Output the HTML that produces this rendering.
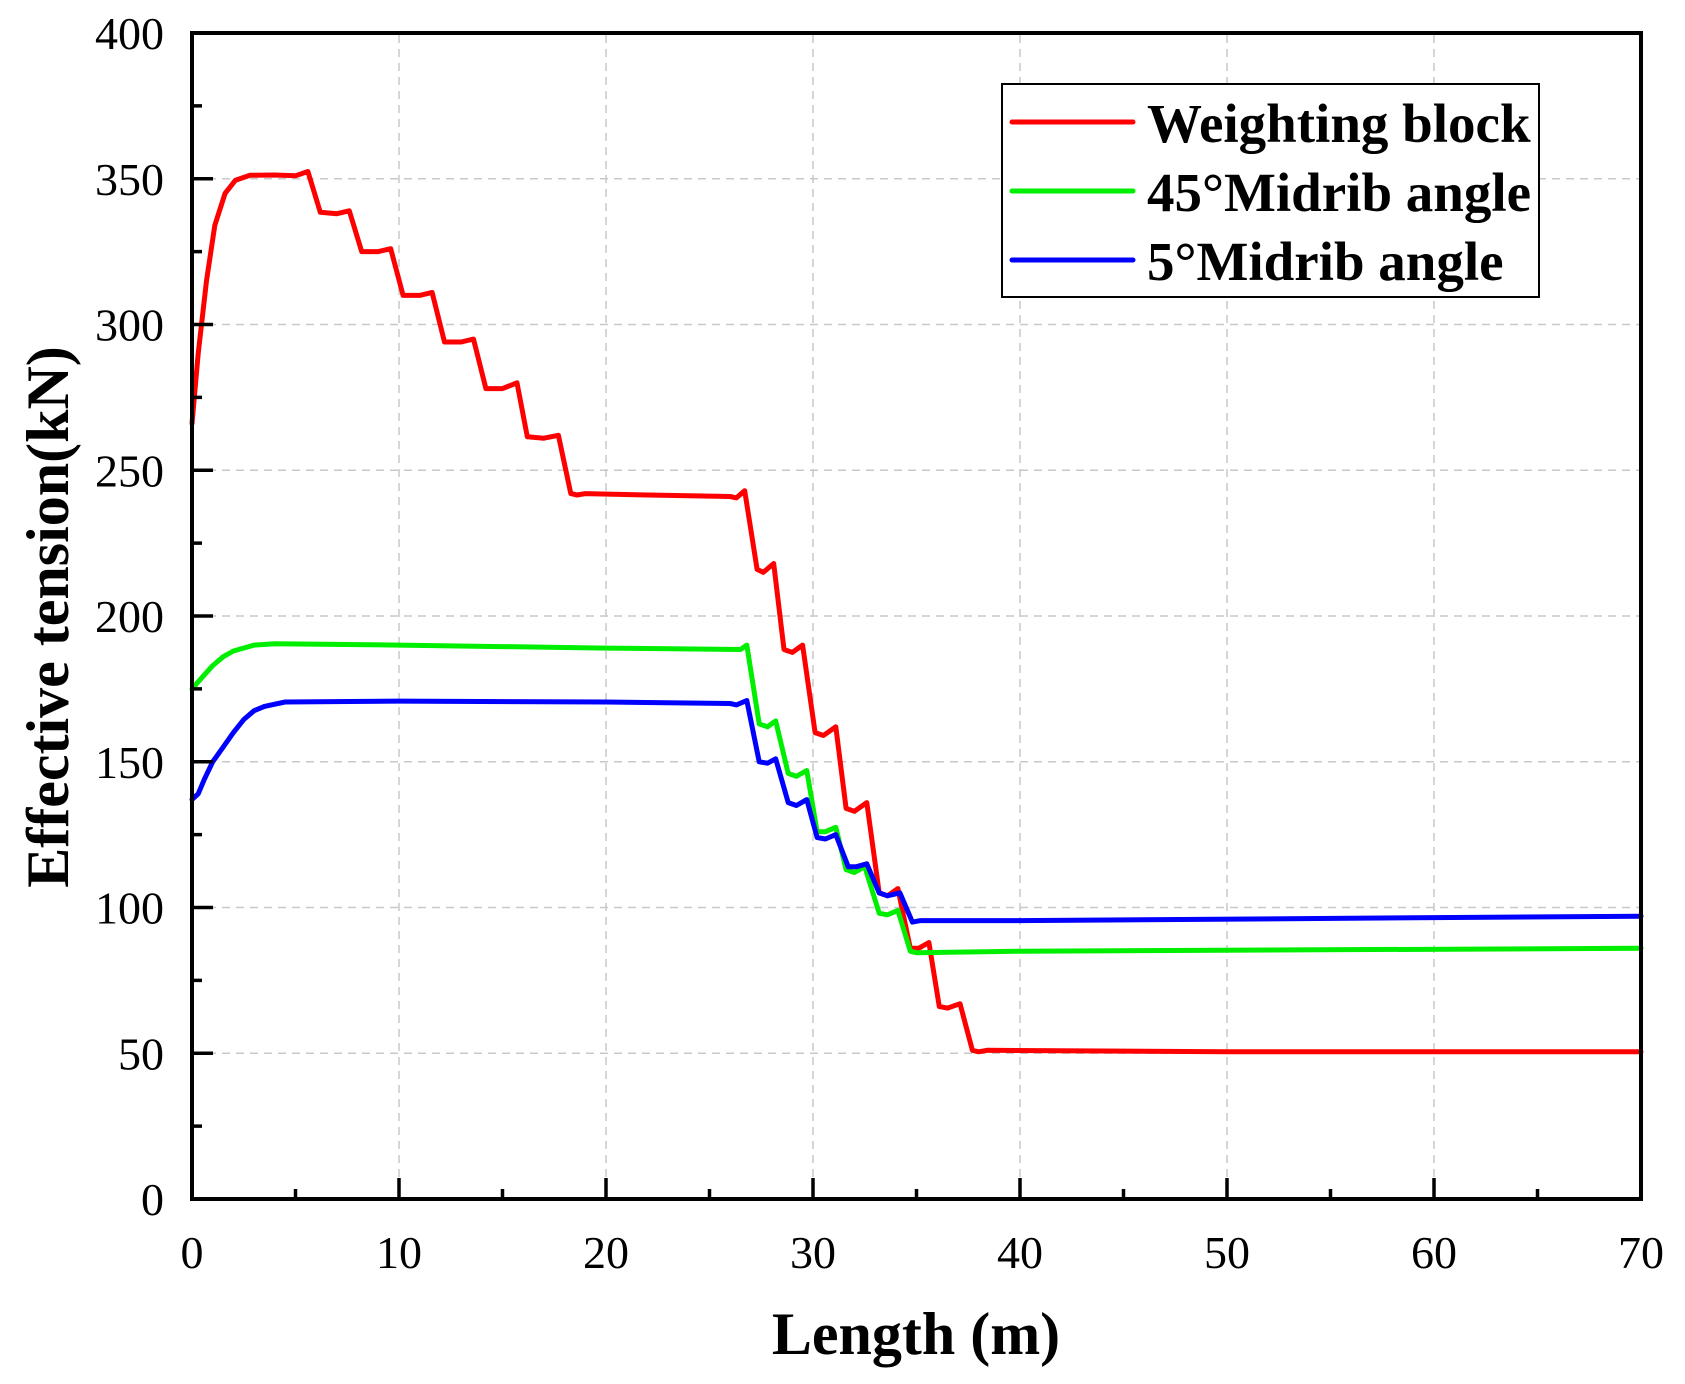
<!DOCTYPE html>
<html><head><meta charset="utf-8"><style>
html,body{margin:0;padding:0;background:#fff;}
svg{display:block;}
</style></head><body>
<svg id="s" width="1685" height="1384" xmlns="http://www.w3.org/2000/svg" font-family="Liberation Serif, serif">
<rect width="1685" height="1384" fill="#fff"/>
<g id="grid" stroke="#c8c8c8" stroke-width="1.5" stroke-dasharray="8,6"></g>
<g id="series" fill="none" stroke-width="5" stroke-linejoin="round" stroke-linecap="round"></g>
<rect x="192" y="33" width="1449" height="1166" fill="none" stroke="#000" stroke-width="4"/>
<g id="ticks" stroke="#000" stroke-width="3.5"></g>
<g id="labels" font-size="46" fill="#000"></g>
<text x="916" y="1354" font-size="60" font-weight="bold" text-anchor="middle">Length (m)</text>
<text transform="translate(68,617) rotate(-90)" font-size="60" font-weight="bold" text-anchor="middle">Effective tension(kN)</text>
<rect x="1002" y="84" width="537" height="213" fill="#fff" stroke="#000" stroke-width="2"/>
<line x1="1012" y1="122" x2="1133" y2="122" stroke="#ff0000" stroke-width="5" stroke-linecap="round"/>
<line x1="1012" y1="191" x2="1133" y2="191" stroke="#00ee00" stroke-width="5" stroke-linecap="round"/>
<line x1="1012" y1="260" x2="1133" y2="260" stroke="#0000ff" stroke-width="5" stroke-linecap="round"/>
<g font-size="55" font-weight="bold" fill="#000">
<text x="1147" y="142">Weighting block</text>
<text x="1147" y="211">45°Midrib angle</text>
<text x="1147" y="280">5°Midrib angle</text>
</g>
</svg>
<script>
var NS="http://www.w3.org/2000/svg";
function X(v){return 192+v*1449/70;}
function Y(v){return 1199-v*1166/400;}
function el(p,t,a,txt){var e=document.createElementNS(NS,t);for(var k in a)e.setAttribute(k,a[k]);if(txt!==undefined)e.textContent=txt;document.getElementById(p).appendChild(e);}
for(var i=1;i<7;i++)el("grid","line",{x1:X(i*10),x2:X(i*10),y1:35,y2:1197});
for(var j=1;j<8;j++)el("grid","line",{x1:194,x2:1639,y1:Y(j*50),y2:Y(j*50)});
for(var i=0;i<=14;i++){var L=i%2?10:21;el("ticks","line",{x1:X(i*5),x2:X(i*5),y1:1199,y2:1199-L});}
for(var j=0;j<=16;j++){var L=j%2?10:21;el("ticks","line",{x1:192,x2:192+L,y1:Y(j*25),y2:Y(j*25)});}
for(var i=0;i<=7;i++)el("labels","text",{x:X(i*10),y:1268,"text-anchor":"middle"},String(i*10));
for(var j=0;j<=8;j++)el("labels","text",{x:164,y:Y(j*50)+16,"text-anchor":"end"},String(j*50));
var red=[[0,266],[0.3,290],[0.7,315],[1.1,334],[1.6,345],[2.1,349.5],[2.8,351.2],[4,351.3],[5,351],[5.6,352.5],[6.2,338.5],[7,338],[7.6,339],[8.2,325],[9,325],[9.6,326],[10.2,310],[11,310],[11.6,311],[12.2,294],[13,294],[13.6,295],[14.2,278],[15,278],[15.7,280],[16.2,261.5],[17,261],[17.7,262],[18.3,242],[18.6,241.5],[19,242],[22,241.5],[26,241],[26.3,240.5],[26.7,243],[27.3,216],[27.6,215],[28.1,218],[28.6,188.5],[29,187.5],[29.5,190],[30.1,160],[30.5,159],[31.1,162],[31.6,134],[32,133],[32.6,136],[33.2,105],[33.6,104],[34.1,106.5],[34.7,86],[35.1,86],[35.6,88],[36.1,66],[36.5,65.5],[37.1,67],[37.7,51],[38,50.5],[38.4,51],[50,50.5],[70,50.5]];
var green=[[0,175],[0.5,179],[1,183],[1.5,186],[2,188],[3,190],[4,190.5],[10,190],[20,189],[26.5,188.5],[26.8,190],[27.4,163],[27.8,162],[28.2,164],[28.8,146],[29.2,145],[29.7,147],[30.2,126],[30.6,126],[31.1,127.5],[31.6,113],[32,112],[32.5,114],[33.2,98],[33.6,97.5],[34.1,99],[34.7,85],[35,84.5],[40,85],[70,86]];
var blue=[[0,137],[0.3,139],[0.6,144],[1,150],[1.5,155],[2,160],[2.5,164.5],[3,167.5],[3.5,169],[4.5,170.5],[10,170.8],[20,170.5],[26,170],[26.3,169.5],[26.8,171],[27.4,150],[27.8,149.5],[28.2,151],[28.8,136],[29.2,135],[29.7,137],[30.2,124],[30.6,123.5],[31.1,125],[31.7,114],[32.1,114],[32.6,115],[33.2,105],[33.6,104],[34.2,105],[34.8,95],[35.2,95.5],[40,95.5],[70,97]];
function pl(d,c){el("series","polyline",{points:d.map(function(p){return X(p[0]).toFixed(1)+","+Y(p[1]).toFixed(1);}).join(" "),stroke:c});}
pl(red,"#ff0000");pl(green,"#00ee00");pl(blue,"#0000ff");
</script>
</body></html>
